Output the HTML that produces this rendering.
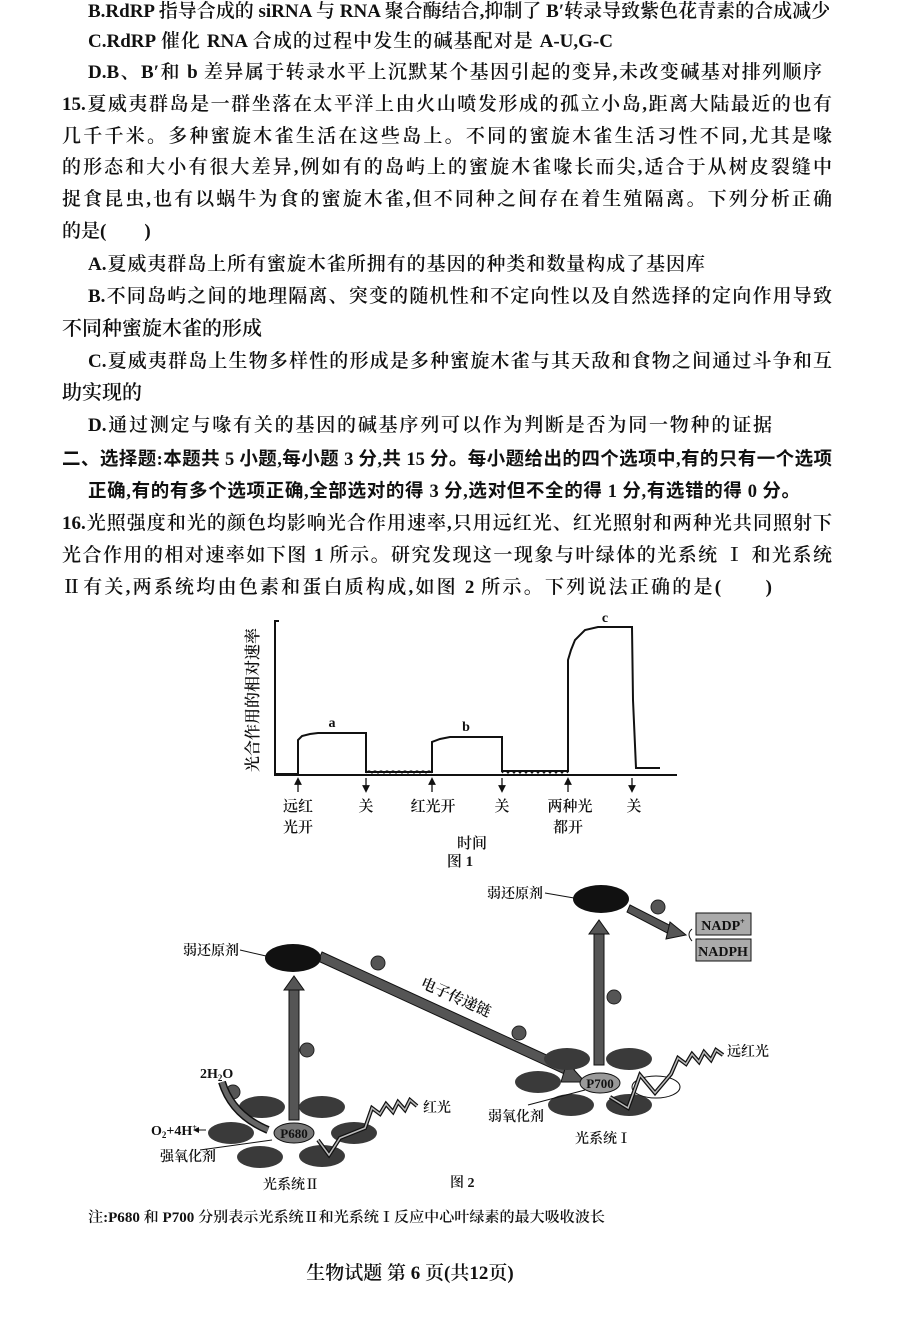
<!DOCTYPE html>
<html><head><meta charset="utf-8"><style>
html,body{margin:0;padding:0;background:#fff}
body{width:900px;height:1334px;position:relative;overflow:hidden;font-family:"Liberation Serif","Noto Serif CJK SC",serif;color:#111}
.l{position:absolute;font-size:19px;line-height:24px;white-space:nowrap;text-align:left;font-weight:600}
.j{text-align:justify;text-align-last:justify}
.b{font-weight:700;font-family:"Liberation Serif","Noto Sans CJK SC",sans-serif;font-size:18.5px}
svg{position:absolute;left:0;top:0}
svg text{font-family:"Liberation Serif","Noto Serif CJK SC",serif;fill:#111;font-weight:600}
</style></head><body>
<div class="l j" style="left:88px;top:0px;width:742px">B.RdRP 指导合成的 siRNA 与 RNA 聚合酶结合,抑制了 B′转录导致紫色花青素的合成减少</div>
<div class="l j" style="left:88px;top:30px;width:525px">C.RdRP 催化 RNA 合成的过程中发生的碱基配对是 A-U,G-C</div>
<div class="l j" style="left:88px;top:61px;width:734px">D.B、B′和 b 差异属于转录水平上沉默某个基因引起的变异,未改变碱基对排列顺序</div>
<div class="l j" style="left:62px;top:93px;width:770px">15.夏威夷群岛是一群坐落在太平洋上由火山喷发形成的孤立小岛,距离大陆最近的也有</div>
<div class="l j" style="left:62px;top:125px;width:770px">几千千米。多种蜜旋木雀生活在这些岛上。不同的蜜旋木雀生活习性不同,尤其是喙</div>
<div class="l j" style="left:62px;top:156px;width:770px">的形态和大小有很大差异,例如有的岛屿上的蜜旋木雀喙长而尖,适合于从树皮裂缝中</div>
<div class="l j" style="left:62px;top:188px;width:770px">捉食昆虫,也有以蜗牛为食的蜜旋木雀,但不同种之间存在着生殖隔离。下列分析正确</div>
<div class="l" style="left:62px;top:220px">的是(　　)</div>
<div class="l j" style="left:88px;top:253px;width:617px">A.夏威夷群岛上所有蜜旋木雀所拥有的基因的种类和数量构成了基因库</div>
<div class="l j" style="left:88px;top:285px;width:744px">B.不同岛屿之间的地理隔离、突变的随机性和不定向性以及自然选择的定向作用导致</div>
<div class="l" style="left:62px;top:317px;font-size:20px">不同种蜜旋木雀的形成</div>
<div class="l j" style="left:88px;top:350px;width:744px">C.夏威夷群岛上生物多样性的形成是多种蜜旋木雀与其天敌和食物之间通过斗争和互</div>
<div class="l" style="left:62px;top:381px;font-size:20px">助实现的</div>
<div class="l j" style="left:88px;top:414px;width:684px">D.通过测定与喙有关的基因的碱基序列可以作为判断是否为同一物种的证据</div>
<div class="l j b" style="left:62px;top:448px;width:770px">二、选择题:本题共 5 小题,每小题 3 分,共 15 分。每小题给出的四个选项中,有的只有一个选项</div>
<div class="l j b" style="left:88px;top:480px;width:712px">正确,有的有多个选项正确,全部选对的得 3 分,选对但不全的得 1 分,有选错的得 0 分。</div>
<div class="l j" style="left:62px;top:512px;width:770px">16.光照强度和光的颜色均影响光合作用速率,只用远红光、红光照射和两种光共同照射下</div>
<div class="l j" style="left:62px;top:544px;width:770px">光合作用的相对速率如下图 1 所示。研究发现这一现象与叶绿体的光系统 Ⅰ 和光系统</div>
<div class="l j" style="left:62px;top:576px;width:710px">Ⅱ有关,两系统均由色素和蛋白质构成,如图 2 所示。下列说法正确的是(　　)</div>

<svg width="900" height="1334" viewBox="0 0 900 1334">
<defs>
<marker id="ah" markerWidth="6" markerHeight="6" refX="3" refY="3" orient="auto"><path d="M0,0 L6,3 L0,6 z" fill="#111"/></marker>
</defs>
<g stroke="#111" stroke-width="2" fill="none">
<path d="M279,621 H275 V775 H677"/>
<path d="M275,774 H298 V740 L302,736 L310,734 L318,733 H366 V772 H432 V742 L440,739 L450,737 H502 V771 H568 V660 L571,650 L575,640 L585,630 L598,627 H632 L633,700 L636,768 H660"/>
<path d="M366,773 q3,-4 6,0 q3,-4 6,0 q3,-4 6,0 q3,-4 6,0 q3,-4 6,0 q3,-4 6,0 q3,-4 6,0 q3,-4 6,0 q3,-4 6,0 q3,-4 6,0 q3,-4 6,0" stroke-width="1.3"/>
<path d="M502,773 q3,-4 6,0 q3,-4 6,0 q3,-4 6,0 q3,-4 6,0 q3,-4 6,0 q3,-4 6,0 q3,-4 6,0 q3,-4 6,0 q3,-4 6,0 q3,-4 6,0 q3,-4 6,0" stroke-width="1.3"/>
</g>
<g stroke="#111" stroke-width="1.3">
<line x1="298" y1="792" x2="298" y2="781" marker-end="url(#ah)"/>
<line x1="366" y1="778" x2="366" y2="789" marker-end="url(#ah)"/>
<line x1="432" y1="792" x2="432" y2="781" marker-end="url(#ah)"/>
<line x1="502" y1="778" x2="502" y2="789" marker-end="url(#ah)"/>
<line x1="568" y1="792" x2="568" y2="781" marker-end="url(#ah)"/>
<line x1="632" y1="778" x2="632" y2="789" marker-end="url(#ah)"/>
</g>
<g font-size="15" text-anchor="middle">
<text x="332" y="727" font-size="14">a</text>
<text x="466" y="731" font-size="14">b</text>
<text x="605" y="622" font-size="14">c</text>
<text x="298" y="811">远红</text><text x="298" y="832">光开</text>
<text x="366" y="811">关</text>
<text x="433" y="811">红光开</text>
<text x="502" y="811">关</text>
<text x="570" y="811">两种光</text><text x="568" y="832">都开</text>
<text x="634" y="811">关</text>
<text x="472" y="848">时间</text>
<text x="460" y="866">图 1</text>
<text transform="translate(258,700) rotate(-90)" font-size="16">光合作用的相对速率</text>
</g>

<polygon points="322,952 575,1068 571,1077 318,961" fill="#555" stroke="#111" stroke-width="1"/>
<polygon points="567,1062 585,1082 561,1082" fill="#555" stroke="#111" stroke-width="1"/>
<rect x="289" y="990" width="10" height="130" fill="#555" stroke="#111"/>
<polygon points="284,990 304,990 294,976" fill="#555" stroke="#111"/>
<rect x="594" y="934" width="10" height="131" fill="#555" stroke="#111"/>
<polygon points="589,934 609,934 599,920" fill="#555" stroke="#111"/>
<polygon points="630,905 675,928 671,935 627,912" fill="#555" stroke="#111"/>
<polygon points="670,922 686,935 666,939" fill="#555" stroke="#111"/>
<rect x="696" y="913" width="55" height="22" fill="#aaa" stroke="#111"/>
<rect x="696" y="939" width="55" height="22" fill="#aaa" stroke="#111"/>
<text x="723" y="930" font-size="14" text-anchor="middle">NADP<tspan font-size="8" dy="-6">+</tspan></text>
<text x="723" y="956" font-size="14" text-anchor="middle">NADPH</text>
<path d="M692,929 q-6,5 0,12" stroke="#111" fill="none"/>
<ellipse cx="293" cy="958" rx="28" ry="14" fill="#111"/>
<ellipse cx="601" cy="899" rx="28" ry="14" fill="#111"/>
<line x1="240" y1="950" x2="266" y2="956" stroke="#111"/>
<line x1="545" y1="893" x2="574" y2="898" stroke="#111"/>
<g font-size="14"><text x="183" y="955">弱还原剂</text><text x="487" y="898">弱还原剂</text></g>
<g fill="#555" stroke="#222">
<circle cx="378" cy="963" r="7"/><circle cx="519" cy="1033" r="7"/><circle cx="307" cy="1050" r="7"/>
<circle cx="233" cy="1092" r="7"/><circle cx="614" cy="997" r="7"/><circle cx="658" cy="907" r="7"/>
</g>
<text transform="translate(454,1002) rotate(24)" font-size="15" text-anchor="middle">电子传递链</text>
<g fill="#3a3a3a">
<ellipse cx="262" cy="1107" rx="23" ry="11"/><ellipse cx="322" cy="1107" rx="23" ry="11"/>
<ellipse cx="231" cy="1133" rx="23" ry="11"/><ellipse cx="354" cy="1133" rx="23" ry="11"/>
<ellipse cx="260" cy="1157" rx="23" ry="11"/><ellipse cx="322" cy="1156" rx="23" ry="11"/>
</g>
<ellipse cx="294" cy="1133" rx="20" ry="10" fill="#777" stroke="#111"/>
<text x="294" y="1138" font-size="13" text-anchor="middle">P680</text>
<polyline points="417,1106 410,1100 405,1110 398,1102 393,1112 386,1104 380,1114 372,1108 365,1128 340,1138 329,1155 318,1140" fill="none" stroke="#111" stroke-width="4"/>
<polyline points="417,1106 410,1100 405,1110 398,1102 393,1112 386,1104 380,1114 372,1108 365,1128 340,1138 329,1155 318,1140" fill="none" stroke="#bbb" stroke-width="1.5"/>
<path d="M222,1082 Q232,1115 268,1130" stroke="#111" stroke-width="8" fill="none"/>
<path d="M222,1082 Q232,1115 268,1130" stroke="#666" stroke-width="5" fill="none"/>
<line x1="206" y1="1130" x2="196" y2="1130" stroke="#111" marker-end="url(#ah)"/>
<line x1="200" y1="1150" x2="272" y2="1140" stroke="#111"/>
<g font-size="14">
<text x="200" y="1078">2H<tspan font-size="9" dy="3">2</tspan><tspan dy="-3">O</tspan></text>
<text x="151" y="1135">O<tspan font-size="9" dy="3">2</tspan><tspan dy="-3">+4H</tspan><tspan font-size="8" dy="-5">+</tspan></text>
<text x="160" y="1161">强氧化剂</text>
<text x="423" y="1112">红光</text>
<text x="263" y="1189">光系统Ⅱ</text>
<text x="450" y="1187">图 2</text>
</g>
<g fill="#3a3a3a">
<ellipse cx="567" cy="1059" rx="23" ry="11"/><ellipse cx="629" cy="1059" rx="23" ry="11"/>
<ellipse cx="538" cy="1082" rx="23" ry="11"/>
<ellipse cx="571" cy="1105" rx="23" ry="11"/><ellipse cx="629" cy="1105" rx="23" ry="11"/>
</g>
<ellipse cx="656" cy="1087" rx="24" ry="11" fill="#fff" stroke="#111"/>
<ellipse cx="600" cy="1083" rx="20" ry="10" fill="#999" stroke="#111"/>
<text x="600" y="1088" font-size="13" text-anchor="middle">P700</text>
<polyline points="723,1055 716,1050 711,1060 704,1052 699,1062 692,1054 686,1064 678,1058 671,1074 655,1093 640,1075 628,1108 610,1097" fill="none" stroke="#111" stroke-width="4"/>
<polyline points="723,1055 716,1050 711,1060 704,1052 699,1062 692,1054 686,1064 678,1058 671,1074 655,1093 640,1075 628,1108 610,1097" fill="none" stroke="#bbb" stroke-width="1.5"/>
<line x1="528" y1="1105" x2="585" y2="1090" stroke="#111"/>
<g font-size="14">
<text x="727" y="1056">远红光</text>
<text x="488" y="1121">弱氧化剂</text>
<text x="575" y="1143">光系统Ⅰ</text>
</g>
<text x="88" y="1222" font-size="14.5" font-weight="700" textLength="517" lengthAdjust="spacingAndGlyphs">注:P680 和 P700 分别表示光系统Ⅱ和光系统Ⅰ反应中心叶绿素的最大吸收波长</text>
<text x="410" y="1279" font-size="19" font-weight="700" text-anchor="middle">生物试题 第 6 页(共12页)</text>
</svg>
</body></html>
